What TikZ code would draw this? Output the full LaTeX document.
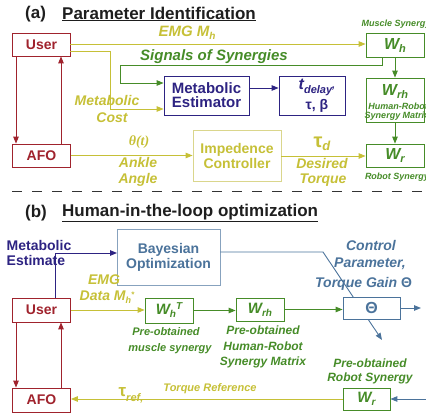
\documentclass[tikz,border=0pt]{standalone}
\usepackage{fontspec}
\setmainfont{Liberation Sans}
\newfontfamily\serifit{Liberation Serif}
\usetikzlibrary{arrows.meta}
\definecolor{dred}{RGB}{160,35,45}
\definecolor{olive}{RGB}{198,192,55}
\definecolor{olivelt}{RGB}{218,214,140}
\definecolor{grn}{RGB}{70,140,40}
\definecolor{navy}{RGB}{45,35,130}
\definecolor{steel}{RGB}{75,115,155}
\definecolor{steellt}{RGB}{135,162,190}
\definecolor{ttl}{RGB}{30,30,30}
\newcommand{\fs}[1]{\fontsize{#1}{#1}\selectfont}
\begin{document}
\begin{tikzpicture}[x=1pt,y=-1pt,
  box/.style={draw,rectangle,fill=white,line width=0.8pt,inner sep=0pt,align=center},
  arr/.style={-{Triangle[length=7pt,width=5.5pt]},line width=0.9pt},
  ln/.style={line width=0.9pt},
  lab/.style={font=\bfseries\itshape,inner sep=0pt,align=center},
  ttlstyle/.style={font=\bfseries\fs{17},text=ttl,inner sep=0pt,anchor=west},
  boxtxt/.style={font=\bfseries\fs{14}},
]
\useasboundingbox (0,0) rectangle (426,417);
\clip (0,0) rectangle (426,417);

% ---------------- (a) ----------------
\node[ttlstyle] (ta) at (25,14) {(a)};
\node[ttlstyle] (tat) at (62,14) {\underline{Parameter Identification}};

\node[box,draw=dred,text=dred,boxtxt,minimum width=58pt,minimum height=23pt] (userA) at (41.5,44.5) {User};
\node[box,draw=dred,text=dred,boxtxt,minimum width=58pt,minimum height=23pt] (afoA) at (41.5,155.5) {AFO};

\node[box,draw=grn,minimum width=58pt,minimum height=24pt] (wh) at (395,45) {};
\node[lab,text=grn,font=\bfseries\itshape\fs{16}] (whl) at (395,45) {W\raisebox{-3pt}{\fs{11}h}};
\node[box,draw=grn,minimum width=58pt,minimum height=44pt] (wrh) at (395,100) {};
\node[lab,text=grn,font=\bfseries\itshape\fs{16}] (wrhl) at (395,91) {W\raisebox{-3pt}{\fs{11}rh}};
\node[lab,text=grn,font=\bfseries\itshape\fs{9}] (wrhs1) at (398,106) {Human-Robot};
\node[lab,text=grn,font=\bfseries\itshape\fs{9}] (wrhs2) at (397,116) {Synergy Matrix};
\node[box,draw=grn,minimum width=58pt,minimum height=23pt] (wr) at (395,155.5) {};
\node[lab,text=grn,font=\bfseries\itshape\fs{16}] (wrl) at (395,155.5) {W\raisebox{-3pt}{\fs{11}r}};
\node[lab,text=grn,font=\bfseries\itshape\fs{9}] (mslab) at (396,24) {Muscle Synergy};
\node[lab,text=grn,font=\bfseries\itshape\fs{9}] (rslab) at (397,177) {Robot Synergy};

\node[box,draw=navy,text=navy,font=\bfseries\fs{15},minimum width=85pt,minimum height=39pt,align=center] (metest) at (206.5,95.5) {Metabolic\\[-1pt]Estimator};
\node[box,draw=navy,minimum width=66pt,minimum height=39pt] (tdel) at (312,95.5) {};
\node[lab,text=navy,font=\bfseries\itshape\fs{16}] (tdl1) at (317,87) {t\raisebox{-4pt}{\fs{11}delay}\raisebox{1pt}{\fs{11},}};
\node[lab,text=navy,font=\bfseries\fs{14}] (tdl2) at (317,106) {τ, β};

\node[box,draw=olivelt,text=olive,boxtxt,minimum width=88pt,minimum height=51pt] (imp) at (237,156) {Impedence\\[1pt]Controller};

% connectors (a)
\coordinate (ua1) at (70,44);
\coordinate (ua2) at (70,51);
\draw[arr,olive] (ua1) -- (ua1 -| wh.west);
\node[lab,text=olive,font=\bfseries\itshape\fs{15}] (emgA) at (187,33) {EMG M\raisebox{-3pt}{\fs{10}h}};

\coordinate (mcA) at (110,51);
\coordinate (mcB) at (110,109);
\draw[arr,olive] (ua2) -- (mcA) -- (mcB) -- (mcB -| metest.west);
\node[lab,text=olive,font=\bfseries\itshape\fs{14}] (mcl1) at (107,100) {Metabolic};
\node[lab,text=olive,font=\bfseries\itshape\fs{14}] (mcl2) at (112,118) {Cost};

\coordinate (sg1) at (382,65);
\coordinate (sg2) at (120,65);
\coordinate (sg3) at (120,83);
\draw[arr,grn] (sg1 |- wh.south) -- (sg1) -- (sg2) -- (sg3) -- (sg3 -| metest.west);
\node[lab,text=grn,font=\bfseries\itshape\fs{15}] (sgl) at (214,57) {Signals of Synergies};

\coordinate (me1) at (249,88);
\draw[arr,navy] (me1) -- (me1 -| tdel.west);

\draw[arr,grn] (wh.south) -- (wrh.north);
\draw[arr,grn] (wrh.south) -- (wr.north);

\draw[arr,dred] ([xshift=-25.5pt]userA.south) -- ([xshift=-25.5pt]afoA.north);
\draw[arr,dred] ([xshift=19.5pt]afoA.north) -- ([xshift=19.5pt]userA.south);

\draw[arr,olive] (afoA.east) -- (afoA.east -| imp.west);
\node[lab,text=olive,font=\serifit\bfseries\itshape\fs{14}] (thl) at (139,142) {θ(t)};
\node[lab,text=olive,font=\bfseries\itshape\fs{14}] (ank1) at (138,162) {Ankle};
\node[lab,text=olive,font=\bfseries\itshape\fs{14}] (ank2) at (138,180) {Angle};

\draw[arr,olive] (imp.east) -- (imp.east -| wr.west);
\node[lab,text=olive,font=\bfseries\fs{20}] (taud) at (322,144) {τ\raisebox{-3pt}{\itshape\fs{13}d}};
\node[lab,text=olive,font=\bfseries\itshape\fs{14}] (des1) at (322,163) {Desired};
\node[lab,text=olive,font=\bfseries\itshape\fs{14}] (des2) at (323,180) {Torque};

% dashed separator
\coordinate (dl) at (12,192);
\coordinate (dr) at (422,192);
\draw[line width=1pt,black!80,dash pattern=on 10pt off 10pt] (dl) -- (dr);

% ---------------- (b) ----------------
\node[ttlstyle] (tb) at (25,213) {(b)};
\node[ttlstyle] (tbt) at (62,213) {\underline{Human-in-the-loop optimization}};

\node[box,draw=dred,text=dred,boxtxt,minimum width=58pt,minimum height=24pt] (userB) at (41.5,310) {User};
\node[box,draw=dred,text=dred,boxtxt,minimum width=58pt,minimum height=24pt] (afoB) at (41.5,400) {AFO};

\node[box,draw=steellt,text=steel,boxtxt,minimum width=103pt,minimum height=56pt] (bayes) at (168.5,257) {Bayesian\\[1pt]Optimization};

\node[box,draw=grn,minimum width=48pt,minimum height=25pt] (whT) at (169,310.5) {};
\node[lab,text=grn,font=\bfseries\itshape\fs{15}] (whTl) at (169,310.5) {W\raisebox{-3pt}{\fs{10}h}\raisebox{5pt}{\fs{10}T}};
\node[box,draw=grn,minimum width=48pt,minimum height=23pt] (wrhB) at (260,309.5) {};
\node[lab,text=grn,font=\bfseries\itshape\fs{15}] (wrhBl) at (260,309.5) {W\raisebox{-3pt}{\fs{10}rh}};
\node[box,draw=grn,minimum width=47pt,minimum height=22pt] (wrB) at (366.5,399) {};
\node[lab,text=grn,font=\bfseries\itshape\fs{15}] (wrBl) at (366.5,399) {W\raisebox{-3pt}{\fs{10}r}};

% connectors (b)
\coordinate (mb) at (117,253);
\draw[arr,navy] ([xshift=13.5pt]userB.north) |- (mb);
\node[lab,text=navy,font=\bfseries\fs{14},align=left] (mel) at (39,253) {Metabolic\\[1pt]Estimate};

\coordinate (bk) at (323,252);
\coordinate (rs) at (382,340);
\draw[arr,steel] ([yshift=5pt]bayes.east) -- (bk) -- (rs);
% theta box drawn on top of the crossing line
\node[box,draw=steel,minimum width=57pt,minimum height=22pt] (theta) at (371.5,308) {};
\node[lab,text=steel,font=\bfseries\fs{16}] (thetal) at (371.5,308) {Θ};

\node[lab,text=steel,font=\bfseries\itshape\fs{14}] (cp1) at (371,245) {Control};
\node[lab,text=steel,font=\bfseries\itshape\fs{14}] (cp2) at (370,264) {Parameter,};
\node[lab,text=steel,font=\bfseries\itshape\fs{14},anchor=west] (cp3) at (315,284) {Torque Gain \upshape Θ};

\draw[arr,olive] (userB.east) -- (userB.east -| whT.west);
\node[lab,text=olive,font=\bfseries\itshape\fs{14}] (emgB) at (104,280) {EMG};
\node[lab,text=olive,font=\bfseries\itshape\fs{14}] (datB) at (107,297) {Data M\raisebox{-3pt}{\fs{9}h}\raisebox{3pt}{\fs{8}*}};

\draw[arr,grn] (whT.east) -- (whT.east -| wrhB.west);
\draw[arr,grn] (wrhB.east) -- (wrhB.east -| theta.west);

\node[lab,text=grn,font=\bfseries\itshape\fs{11}] (po1) at (166,332) {Pre-obtained};
\node[lab,text=grn,font=\bfseries\itshape\fs{11}] (po2) at (170,349) {muscle synergy};
\node[lab,text=grn,font=\bfseries\itshape\fs{12}] (po3) at (263,330) {Pre-obtained};
\node[lab,text=grn,font=\bfseries\itshape\fs{12}] (po4) at (263,346) {Human-Robot};
\node[lab,text=grn,font=\bfseries\itshape\fs{12}] (po5) at (263,362) {Synergy Matrix};
\node[lab,text=grn,font=\bfseries\itshape\fs{12}] (po6) at (370,363) {Pre-obtained};
\node[lab,text=grn,font=\bfseries\itshape\fs{12}] (po7) at (370,378) {Robot Synergy};

\coordinate (thend) at (421,308);
\draw[arr,steel] (theta.east) -- (thend);
\coordinate (wrin) at (428,399);
\draw[arr,steel] (wrin) -- (wrB.east);

\draw[arr,olive] (wrB.west) -- (wrB.west -| afoB.east);
\node[lab,text=olive,font=\bfseries\fs{17}] (tref) at (131,395) {τ\raisebox{-5pt}{\itshape\fs{11}ref,}};
\node[lab,text=olive,font=\bfseries\itshape\fs{11}] (trl) at (210,389) {Torque Reference};

\draw[arr,dred] ([xshift=-25.5pt]userB.south) -- ([xshift=-25.5pt]afoB.north);
\draw[arr,dred] ([xshift=19.5pt]afoB.north) -- ([xshift=19.5pt]userB.south);
\end{tikzpicture}
\end{document}
